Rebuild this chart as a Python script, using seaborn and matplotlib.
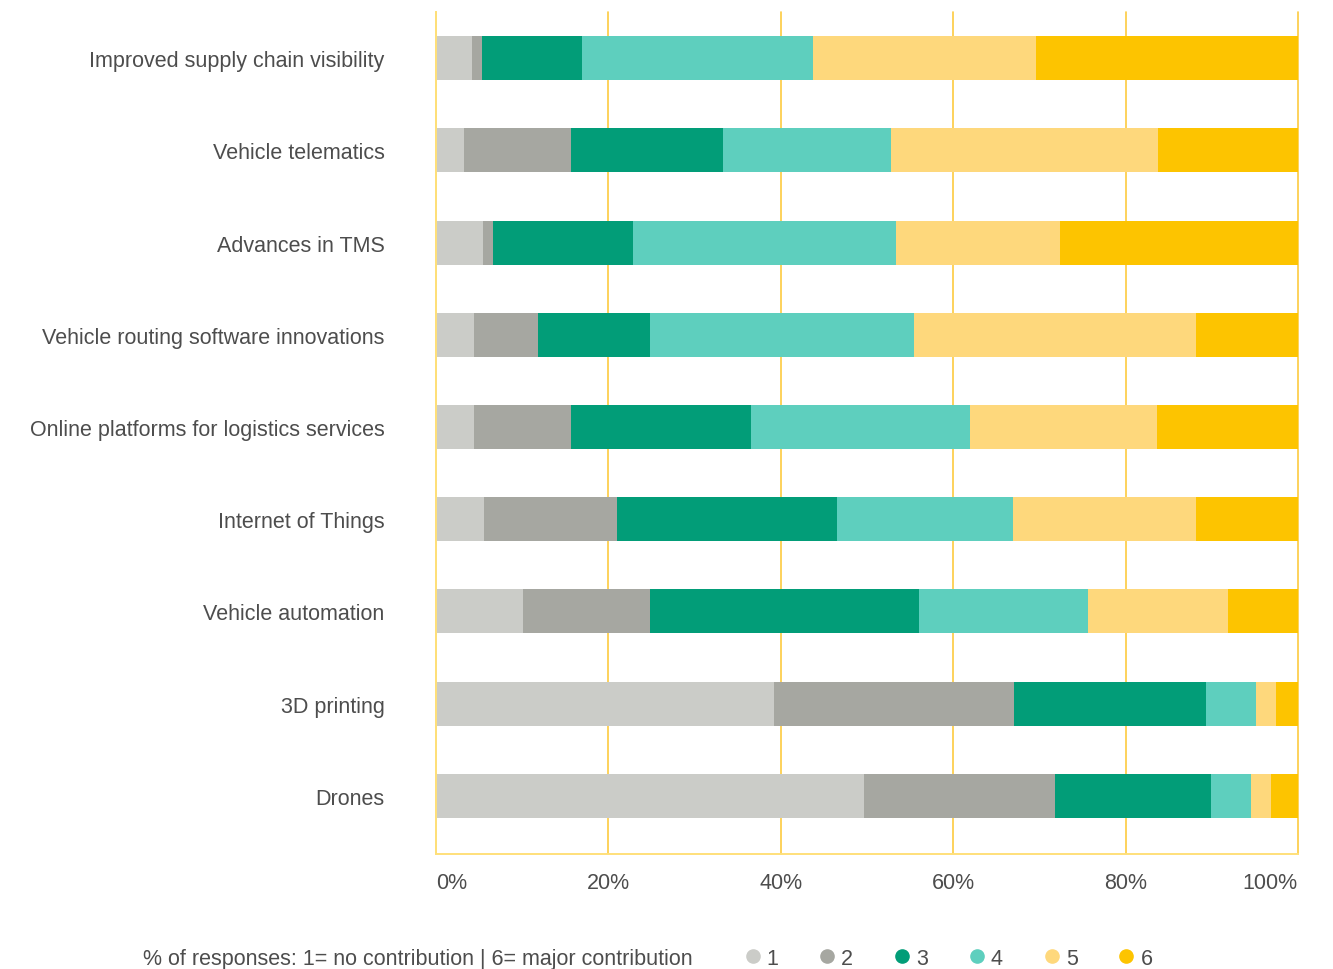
import matplotlib
matplotlib.use("Agg")
import matplotlib.pyplot as plt
import numpy as np
import pandas as pd
import seaborn as sns
from matplotlib.lines import Line2D

# Technologies, top to bottom
categories = [
    "Improved supply chain visibility",
    "Vehicle telematics",
    "Advances in TMS",
    "Vehicle routing software innovations",
    "Online platforms for logistics services",
    "Internet of Things",
    "Vehicle automation",
    "3D printing",
    "Drones",
]

# Share of responses (%) per contribution score, 1 = none ... 6 = major
score_1 = [4.2, 3.2, 5.5, 4.4, 4.4, 5.6, 10.1, 39.2, 49.7]
score_2 = [1.1, 12.5, 1.1, 7.4, 11.3, 15.4, 14.7, 27.9, 22.1]
score_3 = [11.6, 17.6, 16.2, 13.0, 20.8, 25.5, 31.2, 22.2, 18.1]
score_4 = [26.8, 19.5, 30.6, 30.6, 25.4, 20.4, 19.6, 5.8, 4.7]
score_5 = [25.9, 31.0, 19.0, 32.8, 21.7, 21.3, 16.3, 2.3, 2.3]
score_6 = [30.4, 16.2, 27.6, 11.8, 16.4, 11.8, 8.1, 2.6, 3.1]

score_labels = ["1", "2", "3", "4", "5", "6"]
tick_values = [0, 20, 40, 60, 80, 100]
tick_labels = ["0%", "20%", "40%", "60%", "80%", "100%"]
caption = "% of responses: 1= no contribution | 6= major contribution"

colors = ["#CBCCC8", "#A6A7A1", "#029D78", "#5ECFBE", "#FED87C", "#FDC400"]
text_color = "#4D4D4D"
grid_color = "#FDCB3F"

sns.set_style("white")
plt.rcParams["font.family"] = ["Liberation Sans", "DejaVu Sans"]
plt.rcParams["font.size"] = 15.5

df = pd.DataFrame({"category": categories})
scores = [score_1, score_2, score_3, score_4, score_5, score_6]
cum = np.cumsum(np.array(scores), axis=0)
for k in range(6):
    df[f"cum{k + 1}"] = cum[k]

fig = plt.figure(figsize=(13.33, 9.70), dpi=100)
ax = fig.add_axes([0.3271, 0.1186, 0.6466, 0.868])

# stacked bars: draw cumulative totals from the last score back to the first
for k in range(6, 0, -1):
    sns.barplot(data=df, x=f"cum{k}", y="category", order=categories,
                orient="h", color=colors[k - 1], saturation=1,
                width=0.477, errorbar=None, linewidth=0, ax=ax)

ax.set_xlim(0, 100)
ax.set_ylim(8.63, -0.5)
ax.set_xlabel("")
ax.set_ylabel("")

ax.set_axisbelow(True)
ax.set_xticks(tick_values)
ax.xaxis.grid(True, color=grid_color, linewidth=1.2)
ax.yaxis.grid(False)
for gl in ax.get_xgridlines():
    gl.set_clip_on(False)

ax.set_xticklabels(tick_labels, color=text_color, fontsize=15.5)
xl = ax.get_xticklabels()
xl[0].set_horizontalalignment("left")
xl[-1].set_horizontalalignment("right")
ax.tick_params(axis="x", length=0, pad=13)
ax.tick_params(axis="y", length=0, pad=37, labelcolor=text_color, labelsize=15.5)

for side in ["top", "right"]:
    ax.spines[side].set_visible(False)
for side in ["left", "bottom"]:
    ax.spines[side].set_color("#FFE07A")
    ax.spines[side].set_linewidth(1.4)

# caption and colour key along the bottom
fig.text(143 / 1333, 0.0113, caption, ha="left", va="center",
         color=text_color, fontsize=15.5)
handles = [Line2D([0], [0], marker="o", linestyle="none", markersize=9.5,
                  markerfacecolor=c, markeredgecolor=c) for c in colors]
fig.legend(handles, score_labels, loc="center left",
           bbox_to_anchor=(745 / 1333, 0.0113), ncol=6, frameon=False,
           handlelength=0.7, handletextpad=0.3, columnspacing=1.92,
           borderpad=0, borderaxespad=0, labelcolor=text_color, fontsize=15.5)

fig.savefig("out.png", dpi=100, facecolor="white")
